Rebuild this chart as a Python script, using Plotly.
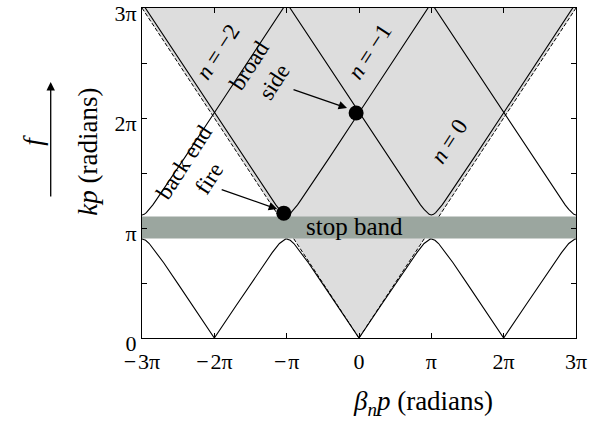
import numpy as np
import plotly.graph_objects as go

PI = np.pi

# ---- data (in units of pi) ----
# lower pass band, read against distance from zone centre
lower_d = [0, 0.3, 0.5, 0.7, 0.8, 0.9, 0.95, 0.98, 1.0]
lower_kp = [0, 0.293, 0.49, 0.684, 0.776, 0.859, 0.888, 0.897, 0.9]
lower_centres = [-2, 0, 2]
# upper pass band, read against distance from band-edge centre
upper_d = [0, 0.03, 0.06, 0.1, 0.15, 0.2, 0.35, 0.6, 1.0, 1.5, 2.0]
upper_kp = [1.118, 1.124, 1.14, 1.169, 1.21, 1.258, 1.402, 1.649, 2.048, 2.547, 3.046]
upper_centres = [-3, -1, 1, 3]
# light line kp = |beta p|
light_beta = [-3, 0, 3]
light_kp = [3, 0, 3]
# stop band limits
stop_band = [0.905, 1.105]
# marked points: back end fire, broadside
dot_beta = [-1.04, -0.04]
dot_kp = [1.135, 2.045]

x_ticks = [-3, -2, -1, 0, 1, 2, 3]
x_ticktext = ["\u2212\u200a3\u03c0", "\u2212\u200a2\u03c0", "\u2212\u200a\u03c0", "0",
              "\u03c0", "2\u03c0", "3\u03c0"]
y_ticks = [0, 0.5, 1, 1.5, 2, 2.5, 3]
y_ticktext = ["0", "", "\u03c0", "", "2\u03c0", "", "3\u03c0"]

FONT = "Liberation Serif"

fig = go.Figure()

# fast-wave (shaded) region
fig.add_trace(go.Scatter(
    x=[b * PI for b in light_beta] + [light_beta[0] * PI],
    y=[k * PI for k in light_kp] + [light_kp[0] * PI],
    fill="toself", fillcolor="#dddddd", line=dict(width=0),
    mode="lines", hoverinfo="skip", showlegend=False))

# light line (dashed)
fig.add_trace(go.Scatter(
    x=[b * PI for b in light_beta], y=[k * PI for k in light_kp],
    mode="lines", line=dict(color="black", width=1, dash="4px,2px"),
    showlegend=False))

# stop band
fig.add_trace(go.Scatter(
    x=[-3 * PI, 3 * PI, 3 * PI, -3 * PI, -3 * PI],
    y=[stop_band[0] * PI, stop_band[0] * PI, stop_band[1] * PI, stop_band[1] * PI, stop_band[0] * PI],
    fill="toself", fillcolor="#9ba69f", line=dict(width=0),
    mode="lines", showlegend=False))

# lower band curves
for c in lower_centres:
    xs = [(c - d) * PI for d in reversed(lower_d)] + [(c + d) * PI for d in lower_d[1:]]
    ys = [k * PI for k in reversed(lower_kp)] + [k * PI for k in lower_kp[1:]]
    fig.add_trace(go.Scatter(x=xs, y=ys, mode="lines",
                             line=dict(color="black", width=1.1), showlegend=False))

# upper band curves
for c in upper_centres:
    xs = [(c - d) * PI for d in reversed(upper_d)] + [(c + d) * PI for d in upper_d[1:]]
    ys = [k * PI for k in reversed(upper_kp)] + [k * PI for k in upper_kp[1:]]
    fig.add_trace(go.Scatter(x=xs, y=ys, mode="lines",
                             line=dict(color="black", width=1.1), showlegend=False))

# dots
fig.add_trace(go.Scatter(x=[b * PI for b in dot_beta], y=[k * PI for k in dot_kp],
                         mode="markers", marker=dict(color="black", size=15),
                         showlegend=False))

# plot area in page pixels
W, H = 592, 423
L, R, T, B = 141.5, 576.5, 8, 338


def px(x, y):
    return (x - L) / (R - L), (B - y) / (B - T)


anns = []


def text(x, y, s, angle=0, size=23):
    xp, yp = px(x, y)
    anns.append(dict(x=xp, y=yp, xref="paper", yref="paper", text=s,
                     showarrow=False, textangle=angle,
                     font=dict(family=FONT, size=size, color="black"),
                     xanchor="center", yanchor="middle"))


def arrow(hx, hy, tx, ty):
    xp, yp = px(hx, hy)
    anns.append(dict(x=xp, y=yp, xref="paper", yref="paper", text="",
                     showarrow=True, ax=tx - hx, ay=ty - hy,
                     arrowhead=2, arrowsize=1.3, arrowwidth=1.3,
                     arrowcolor="black", standoff=0))


text(218, 52, "<i>n</i> = \u22122", -57)
text(370, 52, "<i>n</i> = \u22121", -57)
text(449, 141, "<i>n</i> = 0", -57)
text(262, 74, "broad<br>side", -57)
text(196, 170, "back end<br>fire", -57)
text(354, 227, "stop band", 0, 25)
arrow(347, 108, 292, 89)
arrow(277, 209, 220, 189)
text(87, 152, "<i>kp</i> (radians)", -90, 27)
text(423, 403, "<i>\u03b2<sub>n</sub>p</i> (radians)", 0, 27)
text(32, 140, "<i>f</i>", -90, 27)
arrow(50, 82, 50, 198)

fig.update_layout(
    width=W, height=H,
    margin=dict(l=L, r=W - R, t=T, b=H - B),
    plot_bgcolor="white", paper_bgcolor="white",
    annotations=anns,
    font=dict(family=FONT, size=22, color="black"),
)
fig.update_xaxes(range=[-3 * PI, 3 * PI], tickvals=[t * PI for t in x_ticks],
                 ticktext=x_ticktext, ticks="inside", ticklen=5, tickcolor="black",
                 showline=True, linecolor="black", linewidth=1, mirror="ticks",
                 showgrid=False, zeroline=False, automargin=False,
                 ticklabelstandoff=4, ticklabeloverflow="allow")
fig.update_yaxes(range=[0, 3 * PI], tickvals=[t * PI for t in y_ticks],
                 ticktext=y_ticktext, ticks="inside", ticklen=5, tickcolor="black",
                 showline=True, linecolor="black", linewidth=1, mirror="ticks",
                 showgrid=False, zeroline=False, automargin=False,
                 ticklabelshift=5, ticklabeloverflow="allow")

fig.write_html("out.html", config={"displayModeBar": False},
               post_script="document.body.style.margin='0';document.body.style.overflow='hidden';")
